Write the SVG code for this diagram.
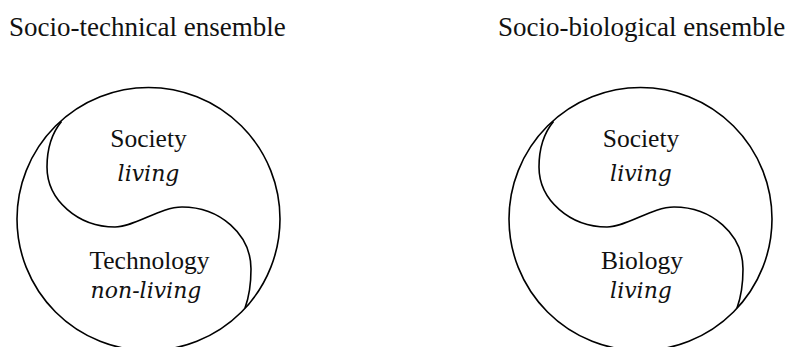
<svg xmlns="http://www.w3.org/2000/svg" width="788" height="347" viewBox="0 0 788 347">
<style>
.t{font-family:"Liberation Serif","Times New Roman",serif;font-size:27px;fill:#111;}
.n{font-size:25.5px;}
.c{text-anchor:middle;}
.i{font-family:"DejaVu Serif","Liberation Serif",serif;font-style:italic;font-size:22px;}
.ln{fill:none;stroke:#000;stroke-width:1.6;}
</style>
<defs>
<path id="yy" d="M 61.5,121.5 C 52,133 47,150 47,167 C 47,200 78,227 115,227 C 135,227 160,207 182,207 C 219.5,207 251,234 251,269 C 251,285 249,297 245,308"/>
</defs>
<rect width="788" height="347" fill="#fff"/>
<g id="socio-technical">
<text class="t" x="9" y="36">Socio-technical ensemble</text>
<circle class="ln" cx="148.5" cy="219" r="131.5"/>
<use href="#yy" class="ln"/>
<g id="society-1"><text class="t n c" x="148.5" y="147">Society</text><text class="t c i" x="148.5" y="181">living</text></g>
<g id="technology"><text class="t n c" x="149.5" y="269">Technology</text><text class="t c i" x="146" y="298">non-living</text></g>
</g>
<g id="socio-biological">
<text class="t" x="498" y="36">Socio-biological ensemble</text>
<g transform="translate(492,0)">
<circle class="ln" cx="148.5" cy="219" r="131.5"/>
<use href="#yy" class="ln"/>
</g>
<g id="society-2"><text class="t n c" x="641" y="147">Society</text><text class="t c i" x="641" y="181">living</text></g>
<g id="biology"><text class="t n c" x="642" y="269">Biology</text><text class="t c i" x="641" y="298">living</text></g>
</g>
</svg>
